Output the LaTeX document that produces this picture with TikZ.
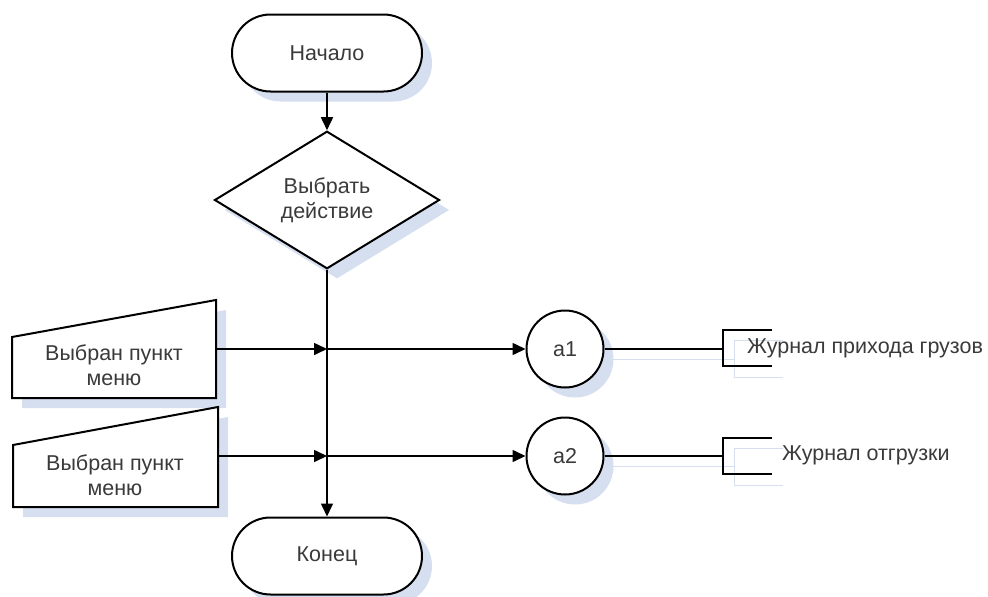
\documentclass[tikz,border=0pt]{standalone}
\usepackage{fontspec}
\setmainfont{Liberation Sans}
\usetikzlibrary{shapes.geometric,shadows,arrows.meta}
\definecolor{shd}{HTML}{D5DFEF}
\definecolor{txt}{HTML}{3A3A3A}
\begin{document}
\begin{tikzpicture}[x=1pt,y=-1pt,
  font=\fontsize{21.5}{25}\selectfont,
  every node/.style={text=txt},
  shadowed/.style={drop shadow={shadow xshift=10pt,shadow yshift=-10pt,fill=shd,opacity=1}},
  outline/.style={draw=black,line width=2pt,fill=white},
  term/.style={outline,rounded corners=38.5pt,minimum width=190pt,minimum height=77pt,inner sep=0pt,shadowed},
  decision/.style={outline,diamond,minimum width=225pt,minimum height=134pt,inner sep=0pt,align=center,shadowed},
  conn/.style={circle,outline,minimum size=77pt,inner sep=0pt,shadowed},
  flow/.style={draw=black,line width=1.6pt},
  arr/.style={flow,-{Triangle[length=13pt,width=12pt]}},
  ghost/.style={draw=shd,line width=1pt},
  notetext/.style={anchor=west,inner sep=0pt}
]
\useasboundingbox (0,0) rectangle (988,597);

% terminals and decision
\node[term] (start) at (327,53) {Начало};
\node[decision] (dec) at (327,200) {Выбрать\\действие};
\node[term] (end) at (327,556) {Конец};

% manual input 1
\fill[shd] (22,347) -- (226,310) -- (226,408) -- (22,408) -- cycle;
\draw[outline] (12,337) -- (216,300) -- (216,398) -- (12,398) -- cycle;
\node[align=center] (in1) at (114,365) {Выбран пункт\\меню};
\coordinate (in1e) at (216,349);

% manual input 2
\fill[shd] (23,455) -- (228,417) -- (228,517) -- (23,517) -- cycle;
\draw[outline] (13,445) -- (218,407) -- (218,507) -- (13,507) -- cycle;
\node[align=center] (in2) at (115,475) {Выбран пункт\\меню};
\coordinate (in2e) at (218,456);

% connectors on the main line
\coordinate (j1) at (327,349);
\coordinate (j2) at (327,456);

% circles
\node[conn] (a1) at (565,349) {a1};
\node[conn] (a2) at (565,456) {a2};

% flow
\draw[arr] (start.south) -- (dec.north);
\draw[arr] (dec.south) -- (end.north);
\draw[arr] (in1e) -- (j1);
\draw[arr] (j1) -- (a1.west);
\draw[arr] (in2e) -- (j2);
\draw[arr] (j2) -- (a2.west);

% annotation 1
\coordinate (b1) at (723,349);
\coordinate (b1t) at (723,330);
\coordinate (b1b) at (723,366);
\coordinate (b1te) at (772,330);
\coordinate (b1be) at (772,366);
\draw[ghost] (613,359) -- (734,359);
\draw[ghost] (783,340) -- (734,340) -- (734,377) -- (783,377);
\draw[flow] (a1.east) -- (b1);
\draw[flow] (b1te) -- (b1t) -- (b1b) -- (b1be);
\node[notetext] (t1) at (747,348) {Журнал прихода грузов};

% annotation 2
\coordinate (b2) at (723,456);
\coordinate (b2t) at (723,438);
\coordinate (b2b) at (723,474);
\coordinate (b2te) at (772,438);
\coordinate (b2be) at (772,474);
\draw[ghost] (613,466) -- (734,466);
\draw[ghost] (783,448) -- (734,448) -- (734,485) -- (783,485);
\draw[flow] (a2.east) -- (b2);
\draw[flow] (b2te) -- (b2t) -- (b2b) -- (b2be);
\node[notetext] (t2) at (782,455) {Журнал отгрузки};
\end{tikzpicture}
\end{document}
